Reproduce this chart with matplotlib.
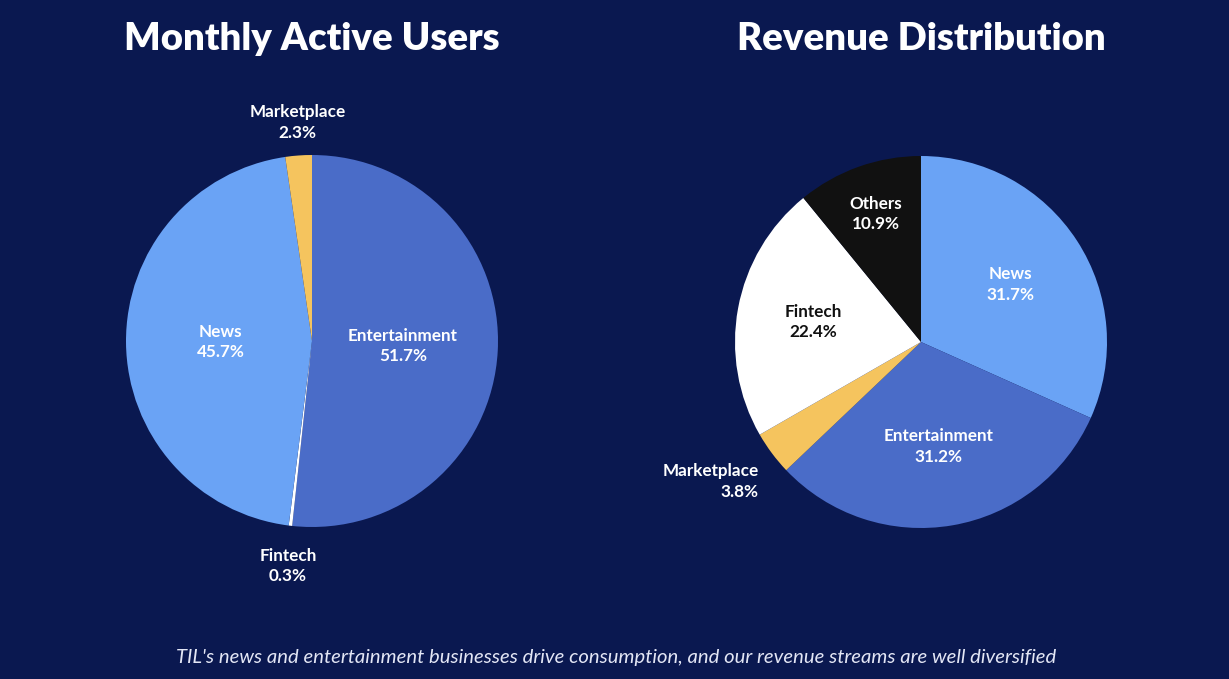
import matplotlib.pyplot as plt
import numpy as np

# data
mau_labels = ['Entertainment', 'Fintech', 'News', 'Marketplace']
mau_values = [51.7, 0.3, 45.7, 2.3]
rev_labels = ['News', 'Entertainment', 'Marketplace', 'Fintech', 'Others']
rev_values = [31.7, 31.2, 3.8, 22.4, 10.9]

bg = '#0a1850'
colors = {'News': '#6aa3f5', 'Entertainment': '#4a6cc8', 'Marketplace': '#f5c45e',
          'Fintech': '#ffffff', 'Others': '#111111'}
text_on = {'Fintech': '#111111'}

plt.rcParams['font.family'] = ['Lato', 'DejaVu Sans']

fig = plt.figure(figsize=(12.29, 6.79), dpi=100, facecolor=bg)


def draw_pie(cx, cy, labels, values, title, outside, r_in, r_extra={}):
    w = 372 / 1229
    h = 372 / 679
    ax = fig.add_axes([cx / 1229 - w / 2, 1 - cy / 679 - h / 2, w, h])
    ax.set_facecolor(bg)
    wedges, _ = ax.pie(values, colors=[colors[l] for l in labels], startangle=90,
                       counterclock=False, radius=1.0,
                       wedgeprops=dict(linewidth=0))
    ax.set_xlim(-1, 1)
    ax.set_ylim(-1, 1)
    ax.set_aspect('equal')
    ax.axis('off')
    for wdg, lab, val in zip(wedges, labels, values):
        mid = np.deg2rad((wdg.theta1 + wdg.theta2) / 2)
        txt = f'{lab}\n{val:.1f}%'
        if lab in outside:
            r = r_extra.get(lab, 1.08)
            x, y = r * np.cos(mid), r * np.sin(mid)
            ha = 'center'
            va = 'bottom' if y > 0.5 else ('top' if y < -0.5 else 'center')
            if abs(x) > 0.5:
                ha = 'left' if x > 0 else 'right'
            ax.text(x, y, txt, ha=ha, va=va, color='white', fontsize=12.3,
                    fontweight='bold', linespacing=1.35, clip_on=False)
        else:
            r = r_extra.get(lab, r_in)
            x, y = r * np.cos(mid), r * np.sin(mid)
            ax.text(x, y, txt, ha='center', va='center',
                    color=text_on.get(lab, 'white'), fontsize=12.3,
                    fontweight='bold', linespacing=1.35)
    fig.text(cx / 1229, 1 - 39 / 679, title, ha='center', va='center',
             color='white', fontsize=27.5, fontweight='heavy')


draw_pie(312, 341, mau_labels, mau_values, 'Monthly Active Users',
         ['Fintech', 'Marketplace'], 0.49, {'Fintech': 1.12, 'Marketplace': 1.08})
draw_pie(921, 342, rev_labels, rev_values, 'Revenue Distribution',
         ['Marketplace'], 0.57, {'Others': 0.73, 'Fintech': 0.59, 'Marketplace': 1.09})

fig.text(616 / 1229, 1 - 658 / 679,
         "TIL's news and entertainment businesses drive consumption, and our revenue streams are well diversified",
         ha='center', va='center', color='#e3e6f5', fontsize=14.6, style='italic')

fig.savefig('out.png', dpi=100, facecolor=bg)
